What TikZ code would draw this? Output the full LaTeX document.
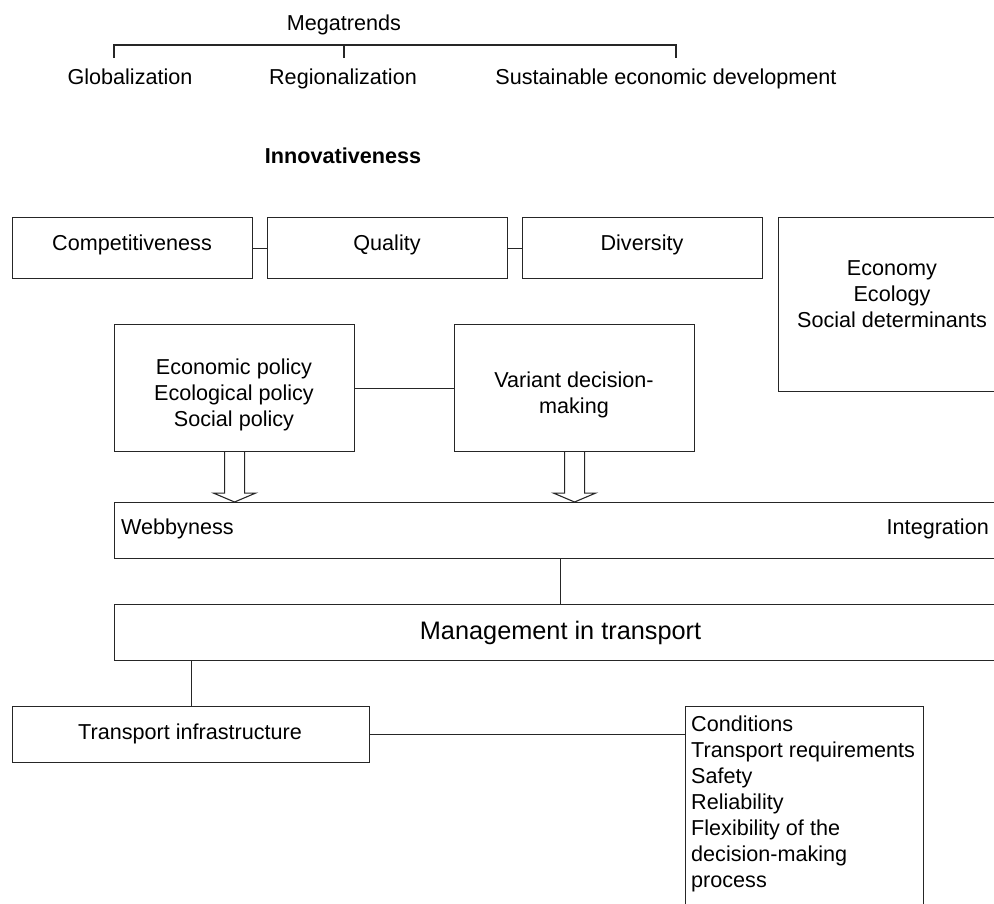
\documentclass[tikz,border=0pt]{standalone}
\usepackage{fontspec}
\setmainfont{Liberation Sans}
\usetikzlibrary{calc}
\begin{document}
\begin{tikzpicture}[x=1pt,y=-1pt,
  box/.style={draw=black!85, line width=1.1pt, inner sep=0pt, anchor=north west, align=center, font=\fontsize{21.6}{26}\selectfont},
  txt/.style={inner sep=0pt, align=center, font=\fontsize{21.6}{26}\selectfont},
  conn/.style={draw=black!85, line width=1.1pt},
  blockarrow/.style={draw=black!85, line width=1.1pt, fill=white, line join=miter}]
\useasboundingbox (0,0) rectangle (994,903);
\begin{scope}
\clip (0,0) rectangle (994,903);
% Megatrends
\node[txt, anchor=base] (mega) at (344,30) {Megatrends};
\node[txt, anchor=base] (glob) at (130,84) {Globalization};
\node[txt, anchor=base] (reg) at (343,84) {Regionalization};
\node[txt, anchor=base] (sus) at (666,84) {Sustainable economic development};
\coordinate (bt1) at (114,45);
\coordinate (bt3) at (676,45);
\coordinate (br1) at (114,58);
\coordinate (br2) at (344,58);
\coordinate (br3) at (676,58);
\draw[conn] (br1) -- (bt1) -- (bt3) -- (br3);
\draw[conn] (br2) -- (br2 |- bt1);
\node[txt, anchor=base, font=\fontsize{21.6}{26}\selectfont\bfseries] (innov) at (343,163) {Innovativeness};
% row of boxes
\node[box, minimum width=240, minimum height=61] (comp) at (12,217) {};
\node[box, minimum width=240, minimum height=61] (qual) at (267,217) {};
\node[box, minimum width=240, minimum height=61] (div) at (522,217) {};
\node[txt, anchor=base] (compt) at (132,250) {Competitiveness};
\node[txt, anchor=base] (qualt) at (387,250) {Quality};
\node[txt, anchor=base] (divt) at (642,250) {Diversity};
\draw[conn] (comp.east) -- (qual.west);
\draw[conn] (qual.east) -- (div.west);
% economy box
\node[box, minimum width=228, minimum height=174] (econ) at (778,217) {};
\node[txt] (econt) at (892,294) {Economy\\Ecology\\Social determinants};
% policy and variant
\node[box, minimum width=240, minimum height=127] (pol) at (114,324) {};
\node[txt] (polt) at (234,395) {Economic policy\\Ecological policy\\Social policy};
\node[box, minimum width=240, minimum height=127] (var) at (454,324) {};
\node[txt] (vart) at (574,395) {Variant decision-\\making};
\draw[conn] (pol.east) -- (var.west);
% web
\node[box, minimum width=892, minimum height=56] (web) at (114,502) {};
\node[txt, anchor=west] (webl) at (121,529) {Webbyness};
\node[txt, anchor=east] (webr) at (989,529) {Integration};
% block arrows
\coordinate (pa) at (pol.south);
\coordinate (va) at (var.south);
\draw[blockarrow] ($(pa)+(-10,0)$) -- ($(pa)+(-10,41)$) -- ($(pa)+(-21,41)$) -- (pa |- web.north) -- ($(pa)+(21,41)$) -- ($(pa)+(10,41)$) -- ($(pa)+(10,0)$);
\draw[blockarrow] ($(va)+(-10,0)$) -- ($(va)+(-10,41)$) -- ($(va)+(-21,41)$) -- (va |- web.north) -- ($(va)+(21,41)$) -- ($(va)+(10,41)$) -- ($(va)+(10,0)$);
% management
\node[box, minimum width=892, minimum height=56, font=\fontsize{25.3}{30}\selectfont] (mgmt) at (114,604) {Management in transport};
\draw[conn] (web.south) -- (mgmt.north);
% infrastructure
\node[box, minimum width=357, minimum height=56] (infra) at (12,706) {};
\node[txt, anchor=base] (infrat) at (190,739) {Transport infrastructure};
\draw[conn] (infra.north) -- (infra.north |- mgmt.south);
% conditions
\node[box, minimum width=238, minimum height=240] (cond) at (685,706) {};
\node[txt, anchor=north west, align=left] (condt) at (691,716) {Conditions\\Transport requirements\\Safety\\Reliability\\Flexibility of the\\decision-making\\process};
\draw[conn] (infra.east) -- (infra.east -| cond.west);
\end{scope}
\end{tikzpicture}
\end{document}
